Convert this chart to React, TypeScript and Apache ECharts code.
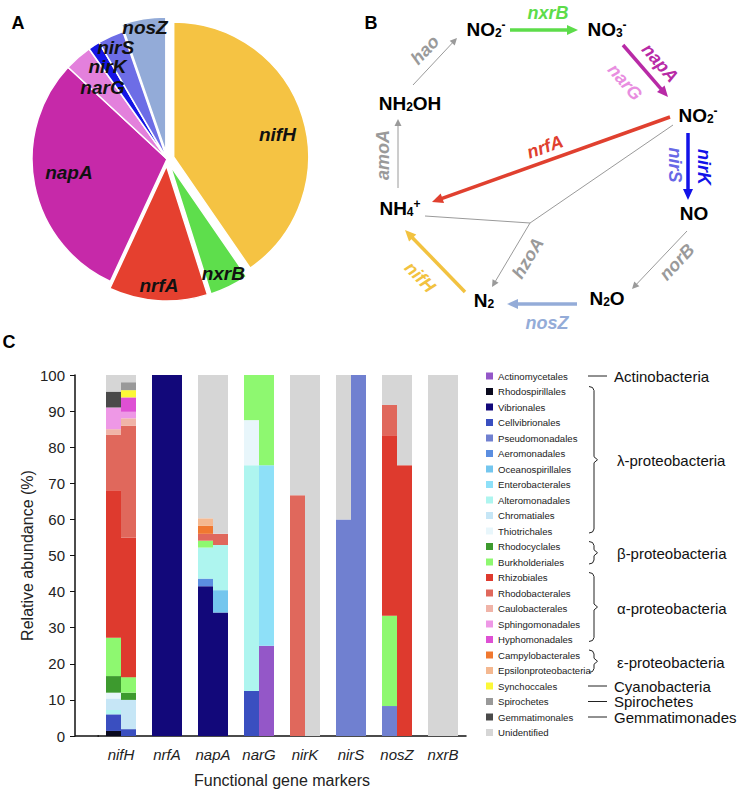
import React, { useEffect, useRef } from 'react';
import * as echarts from 'echarts';

const FONT = '"Liberation Sans", Arial, Helvetica, sans-serif';

// ---------- Panel A : pie ----------
const pieGenes = ['nifH', 'nxrB', 'nrfA', 'napA', 'narG', 'nirK', 'nirS', 'nosZ'];
const pieShares = [40.4, 4.7, 11.8, 30.0, 3.3, 1.4, 3.1, 5.3];
const pieColors = ['#f5c343', '#5ede4c', '#e5402f', '#c629a9', '#e380dc', '#1515e5', '#6d6de6', '#93abd8'];
const pieExploded = ['nifH', 'nxrB', 'nrfA', 'nosZ'];
// label placement (style): radial distance in px and angular nudge in degrees
const pieLabelDist = [113, 128, 127, 99, 96, 110, 123, 133];
const pieLabelNudge = [5, 0, 0, 3.5, -1, 0, 0, 0];

// ---------- Panel C : stacked bars ----------
const geneMarkers = ['nifH', 'nrfA', 'napA', 'narG', 'nirK', 'nirS', 'nosZ', 'nxrB'];

const taxa = [
  'Actinomycetales', 'Rhodospirillales', 'Vibrionales', 'Cellvibrionales', 'Pseudomonadales',
  'Aeromonadales', 'Oceanospirillales', 'Enterobacterales', 'Alteromonadales', 'Chromatiales',
  'Thiotrichales', 'Rhodocyclales', 'Burkholderiales', 'Rhizobiales', 'Rhodobacterales',
  'Caulobacterales', 'Sphingomonadales', 'Hyphomonadales', 'Campylobacterales',
  'Epsilonproteobacteria', 'Synchoccales', 'Spirochetes', 'Gemmatimonales', 'Unidentified',
];
const taxaColors = [
  '#9457c8', '#0a0a1e', '#12087a', '#3a4fc0', '#7080d0',
  '#5b8ee0', '#74c6ee', '#8ee0f8', '#aef5ef', '#c6e6f6',
  '#e8f6fb', '#3d9a2e', '#8ef870', '#de3a2e', '#e0685c',
  '#f0b4a8', '#ee98e6', '#de50d4', '#f07830',
  '#f4b890', '#fcf838', '#999999', '#4a4a4a', '#d6d6d6',
];

// sample 1 (left sub-bar) and sample 2 (right sub-bar), in geneMarkers order
const actinomycetales1 = [0, 0, 0, 0, 0, 0, 0, 0];
const actinomycetales2 = [0, 0, 0, 25, 0, 0, 0, 0];
const rhodospirillales1 = [1.4, 0, 0, 0, 0, 0, 0, 0];
const rhodospirillales2 = [0, 0, 0, 0, 0, 0, 0, 0];
const vibrionales1 = [0, 100, 41.5, 0, 0, 0, 0, 0];
const vibrionales2 = [0, 100, 34.2, 0, 0, 0, 0, 0];
const cellvibrionales1 = [4.6, 0, 0, 12.5, 0, 0, 0, 0];
const cellvibrionales2 = [1.9, 0, 0, 0, 0, 0, 0, 0];
const pseudomonadales1 = [0, 0, 0, 0, 0, 60, 8.3, 0];
const pseudomonadales2 = [0, 0, 0, 0, 0, 100, 0, 0];
const aeromonadales1 = [0, 0, 2.1, 0, 0, 0, 0, 0];
const aeromonadales2 = [0, 0, 0, 0, 0, 0, 0, 0];
const oceanospirillales1 = [0, 0, 0, 0, 0, 0, 0, 0];
const oceanospirillales2 = [0, 0, 6.2, 0, 0, 0, 0, 0];
const enterobacterales1 = [0, 0, 0, 0, 0, 0, 0, 0];
const enterobacterales2 = [0, 0, 0, 50, 0, 0, 0, 0];
const alteromonadales1 = [1.2, 0, 8.6, 62.5, 0, 0, 0, 0];
const alteromonadales2 = [0, 0, 12.5, 0, 0, 0, 0, 0];
const chromatiales1 = [3.2, 0, 0, 0, 0, 0, 0, 0];
const chromatiales2 = [8.1, 0, 0, 0, 0, 0, 0, 0];
const thiotrichales1 = [1.6, 0, 0, 12.5, 0, 0, 0, 0];
const thiotrichales2 = [0, 0, 0, 0, 0, 0, 0, 0];
const rhodocyclales1 = [4.6, 0, 0, 0, 0, 0, 0, 0];
const rhodocyclales2 = [2.0, 0, 0, 0, 0, 0, 0, 0];
const burkholderiales1 = [10.6, 0, 1.9, 12.5, 0, 0, 25, 0];
const burkholderiales2 = [4.3, 0, 0, 25, 0, 0, 0, 0];
const rhizobiales1 = [40.9, 0, 0, 0, 0, 0, 50, 0];
const rhizobiales2 = [38.7, 0, 0, 0, 0, 0, 75, 0];
const rhodobacterales1 = [15.3, 0, 1.9, 0, 66.7, 0, 8.4, 0];
const rhodobacterales2 = [30.9, 0, 3.1, 0, 0, 0, 0, 0];
const caulobacterales1 = [1.6, 0, 0, 0, 0, 0, 0, 0];
const caulobacterales2 = [2.1, 0, 0, 0, 0, 0, 0, 0];
const sphingomonadales1 = [6.0, 0, 0, 0, 0, 0, 0, 0];
const sphingomonadales2 = [1.8, 0, 0, 0, 0, 0, 0, 0];
const hyphomonadales1 = [0, 0, 0, 0, 0, 0, 0, 0];
const hyphomonadales2 = [4.0, 0, 0, 0, 0, 0, 0, 0];
const campylobacterales1 = [0, 0, 2.2, 0, 0, 0, 0, 0];
const campylobacterales2 = [0, 0, 0, 0, 0, 0, 0, 0];
const epsilonproteobacteria1 = [0, 0, 2.1, 0, 0, 0, 0, 0];
const epsilonproteobacteria2 = [0, 0, 0, 0, 0, 0, 0, 0];
const synchoccales1 = [0, 0, 0, 0, 0, 0, 0, 0];
const synchoccales2 = [2.0, 0, 0, 0, 0, 0, 0, 0];
const spirochetes1 = [0, 0, 0, 0, 0, 0, 0, 0];
const spirochetes2 = [2.2, 0, 0, 0, 0, 0, 0, 0];
const gemmatimonales1 = [4.4, 0, 0, 0, 0, 0, 0, 0];
const gemmatimonales2 = [0, 0, 0, 0, 0, 0, 0, 0];
const unidentified1 = [4.6, 0, 39.7, 0, 33.3, 40, 8.3, 100];
const unidentified2 = [2.0, 0, 44, 0, 100, 0, 25, 100];

const sample1 = [
  actinomycetales1, rhodospirillales1, vibrionales1, cellvibrionales1, pseudomonadales1,
  aeromonadales1, oceanospirillales1, enterobacterales1, alteromonadales1, chromatiales1,
  thiotrichales1, rhodocyclales1, burkholderiales1, rhizobiales1, rhodobacterales1,
  caulobacterales1, sphingomonadales1, hyphomonadales1, campylobacterales1,
  epsilonproteobacteria1, synchoccales1, spirochetes1, gemmatimonales1, unidentified1,
];
const sample2 = [
  actinomycetales2, rhodospirillales2, vibrionales2, cellvibrionales2, pseudomonadales2,
  aeromonadales2, oceanospirillales2, enterobacterales2, alteromonadales2, chromatiales2,
  thiotrichales2, rhodocyclales2, burkholderiales2, rhizobiales2, rhodobacterales2,
  caulobacterales2, sphingomonadales2, hyphomonadales2, campylobacterales2,
  epsilonproteobacteria2, synchoccales2, spirochetes2, gemmatimonales2, unidentified2,
];

// taxonomic groups for legend: [label, first taxon index, last taxon index]
const taxonGroups: [string, number, number][] = [
  ['Actinobacteria', 0, 0],
  ['λ-proteobacteria', 1, 10],
  ['β-proteobacteria', 11, 12],
  ['α-proteobacteria', 13, 17],
  ['ε-proteobacteria', 18, 19],
  ['Cyanobacteria', 20, 20],
  ['Spirochetes', 21, 21],
  ['Gemmatimonades', 22, 22],
];

// ---------- helpers ----------
function arrow(x1: number, y1: number, x2: number, y2: number, color: string, lw: number, hl: number, hw: number) {
  const dx = x2 - x1, dy = y2 - y1;
  const len = Math.hypot(dx, dy);
  const ux = dx / len, uy = dy / len;
  const bx = x2 - ux * hl, by = y2 - uy * hl;
  return [
    { type: 'line', silent: true, z: 100, shape: { x1, y1, x2: bx + ux, y2: by + uy }, style: { stroke: color, lineWidth: lw } },
    {
      type: 'polygon', silent: true, z: 100,
      shape: { points: [[x2, y2], [bx - uy * hw, by + ux * hw], [bx + uy * hw, by - ux * hw]] },
      style: { fill: color },
    },
  ];
}

function seg(x1: number, y1: number, x2: number, y2: number, color = '#999', lw = 1) {
  return { type: 'line', silent: true, z: 100, shape: { x1, y1, x2, y2 }, style: { stroke: color, lineWidth: lw } };
}

const chemRich = {
  m: { fontSize: 19, fontWeight: 'bold', fontFamily: FONT, fill: '#000', lineHeight: 20 },
  s: { fontSize: 12, fontWeight: 'bold', fontFamily: FONT, fill: '#000', lineHeight: 8, verticalAlign: 'bottom' },
  p: { fontSize: 12, fontWeight: 'bold', fontFamily: FONT, fill: '#000', lineHeight: 8, verticalAlign: 'top' },
};

function chem(x: number, y: number, text: string) {
  return {
    type: 'text', silent: true, z: 100, x, y,
    style: { text, rich: chemRich, align: 'center', verticalAlign: 'middle' },
  };
}

function gene(x: number, y: number, text: string, color: string, rot = 0, size = 18) {
  return {
    type: 'text', silent: true, z: 100, x, y, rotation: rot,
    style: {
      text, fill: color, font: `italic bold ${size}px ${FONT}`,
      align: 'center', verticalAlign: 'middle',
    },
  };
}

function brace(top: number, bottom: number) {
  const mid = (top + bottom) / 2;
  return {
    type: 'polyline', silent: true, z: 100,
    shape: {
      points: [
        [589, top], [592.5, top + 1], [594, top + 4], [594, mid - 3], [597.5, mid],
        [594, mid + 3], [594, bottom - 4], [592.5, bottom - 1], [589, bottom],
      ],
    },
    style: { stroke: '#222', lineWidth: 1, fill: null },
  };
}

export default function App() {
  const ref = useRef<HTMLDivElement>(null);

  useEffect(() => {
    document.body.style.margin = '0';
    if (!ref.current) return;
    const chart = echarts.init(ref.current, null, { renderer: 'svg' });

    const pieCx = 167, pieCy = 159, pieR = 135;
    const total = pieShares.reduce((a, b) => a + b, 0);

    // pie labels positioned from the data (mid angle of each slice)
    let cum = 0;
    const pieLabels = pieGenes.map((g, i) => {
      const mid = ((cum + pieShares[i] / 2) / total) * Math.PI * 2 + (pieLabelNudge[i] * Math.PI) / 180;
      cum += pieShares[i];
      const d = pieLabelDist[i];
      return gene(pieCx + d * Math.sin(mid), pieCy - d * Math.cos(mid), g, '#111', 0, 19);
    });

    // legend-side group labels
    const firstItemY = 376, itemStep = 15.5;
    const itemY = (i: number) => firstItemY + i * itemStep;
    const groupEls: any[] = [];
    taxonGroups.forEach(([label, a, b]) => {
      if (a === b) {
        groupEls.push(seg(588, itemY(a), 607, itemY(a), '#222', 1));
        groupEls.push({
          type: 'text', silent: true, z: 100, x: 614, y: itemY(a),
          style: { text: label, fill: '#111', font: `15px ${FONT}`, align: 'left', verticalAlign: 'middle' },
        });
      } else {
        const top = itemY(a) - 5, bot = itemY(b) + 2;
        groupEls.push(brace(top, bot));
        groupEls.push({
          type: 'text', silent: true, z: 100, x: 617, y: (top + bot) / 2 + 1,
          style: { text: label, fill: '#111', font: `15px ${FONT}`, align: 'left', verticalAlign: 'middle' },
        });
      }
    });

    const grey = '#9a9a9a';
    const diagram: any[] = [
      chem(486, 29, '{m|NO}{s|2}{p|-}'),
      chem(607, 29, '{m|NO}{s|3}{p|-}'),
      chem(698, 115, '{m|NO}{s|2}{p|-}'),
      chem(410, 103, '{m|NH}{s|2}{m|OH}'),
      chem(400, 208, '{m|NH}{s|4}{p|+}'),
      chem(694, 213, '{m|NO}'),
      chem(607, 298, '{m|N}{s|2}{m|O}'),
      chem(484, 300, '{m|N}{s|2}'),
      ...arrow(510, 30, 578, 30, '#5ddc4a', 3.5, 11, 5),
      ...arrow(623, 45, 668, 97, '#b82aa6', 3.5, 11, 5),
      ...arrow(688, 133, 688, 200, '#1212e8', 3.5, 11, 5),
      ...arrow(670, 117, 432, 202, '#e0402f', 3.5, 11, 5),
      ...arrow(465, 292, 405, 230, '#f2c240', 3.5, 11, 5),
      ...arrow(577, 304, 507, 304, '#94acd8', 3.5, 11, 5),
      ...arrow(687, 231, 632, 289, grey, 1, 7, 3.5),
      ...arrow(398, 188, 398, 119, grey, 1, 7, 3.5),
      ...arrow(413, 85, 457, 38, grey, 1, 7, 3.5),
      seg(673, 125, 530, 223, grey, 1),
      seg(425, 216, 530, 223, grey, 1),
      ...arrow(530, 223, 492, 287, grey, 1, 7, 3.5),
      gene(548, 13, 'nxrB', '#5ddc4a'),
      gene(660, 63, 'napA', '#b82aa6', -0.85),
      gene(625, 82, 'narG', '#e88ee0', -0.85),
      gene(704, 167, 'nirK', '#1212e8', -Math.PI / 2),
      gene(675, 165, 'nirS', '#6868e6', -Math.PI / 2),
      gene(545, 147, 'nrfA', '#e0402f', 0.34),
      gene(383, 155, 'amoA', grey, Math.PI / 2),
      gene(425, 50, 'hao', grey, 0.81),
      gene(528, 258, 'hzoA', grey, 1.03),
      gene(677, 262, 'norB', grey, 0.82),
      gene(420, 277, 'nifH', '#f2c240', -0.8),
      gene(547, 323, 'nosZ', '#94acd8'),
    ];

    const panelLetter = (x: number, y: number, t: string) => ({
      type: 'text', silent: true, z: 100, x, y,
      style: { text: t, fill: '#000', font: `bold 18px ${FONT}`, align: 'center', verticalAlign: 'middle' },
    });

    const barSeries: any[] = [];
    taxa.forEach((t, i) => {
      barSeries.push({
        type: 'bar', name: t, stack: 's1', data: sample1[i], barWidth: 15, barGap: '0%',
        itemStyle: { color: taxaColors[i] }, emphasis: { disabled: true }, silent: true,
      });
    });
    taxa.forEach((t, i) => {
      barSeries.push({
        type: 'bar', name: t, stack: 's2', data: sample2[i], barWidth: 15, barGap: '0%',
        itemStyle: { color: taxaColors[i] }, emphasis: { disabled: true }, silent: true,
      });
    });

    chart.setOption({
      animation: false,
      backgroundColor: '#fff',
      textStyle: { fontFamily: FONT },
      grid: { left: 98, right: 284, top: 375, bottom: 56, outerBoundsMode: 'none', containLabel: false },
      legend: {
        orient: 'vertical', left: 486, top: firstItemY - 6, padding: 0,
        itemWidth: 7, itemHeight: 7, itemGap: 3.5,
        icon: 'rect', selectedMode: false, data: taxa,
        textStyle: { fontSize: 9.6, color: '#222', lineHeight: 12, fontFamily: FONT },
      },
      xAxis: {
        type: 'category', data: geneMarkers,
        axisLine: { lineStyle: { color: '#111', width: 1.5 } },
        axisTick: { show: false },
        axisLabel: { fontSize: 15, fontStyle: 'italic', color: '#222', margin: 11, fontFamily: FONT },
        name: 'Functional gene markers', nameLocation: 'middle', nameGap: 36,
        nameTextStyle: { fontSize: 16, color: '#222', fontFamily: FONT },
        splitLine: { show: false },
      },
      yAxis: {
        type: 'value', min: 0, max: 100, interval: 10, offset: 23,
        axisLine: { show: true, lineStyle: { color: '#111', width: 1.5 } },
        axisTick: { show: true, length: 5, lineStyle: { color: '#111' } },
        axisLabel: { fontSize: 15, color: '#222', margin: 10, fontFamily: FONT },
        splitLine: { show: false },
        name: 'Relative abundance (%)', nameLocation: 'middle', nameGap: 40,
        nameTextStyle: { fontSize: 16, color: '#222', fontFamily: FONT },
      },
      series: [
        {
          type: 'pie', center: [pieCx, pieCy], radius: [0, pieR], startAngle: 90, clockwise: true,
          selectedMode: 'multiple', selectedOffset: 7,
          label: { show: false }, labelLine: { show: false },
          emphasis: { disabled: true }, silent: true,
          itemStyle: { borderColor: '#fff', borderWidth: 1.5 },
          data: pieGenes.map((g, i) => ({
            name: g, value: pieShares[i], selected: pieExploded.includes(g),
            itemStyle: { color: pieColors[i] },
          })),
        },
        ...barSeries,
      ],
      graphic: [
        panelLetter(18, 23, 'A'),
        panelLetter(371, 23, 'B'),
        panelLetter(9, 342, 'C'),
        ...pieLabels,
        ...diagram,
        ...groupEls,
        seg(75, 736, 99, 736, '#111', 1.5),
      ],
    });

    return () => chart.dispose();
  }, []);

  return <div ref={ref} style={{ width: 750, height: 792 }} />;
}
